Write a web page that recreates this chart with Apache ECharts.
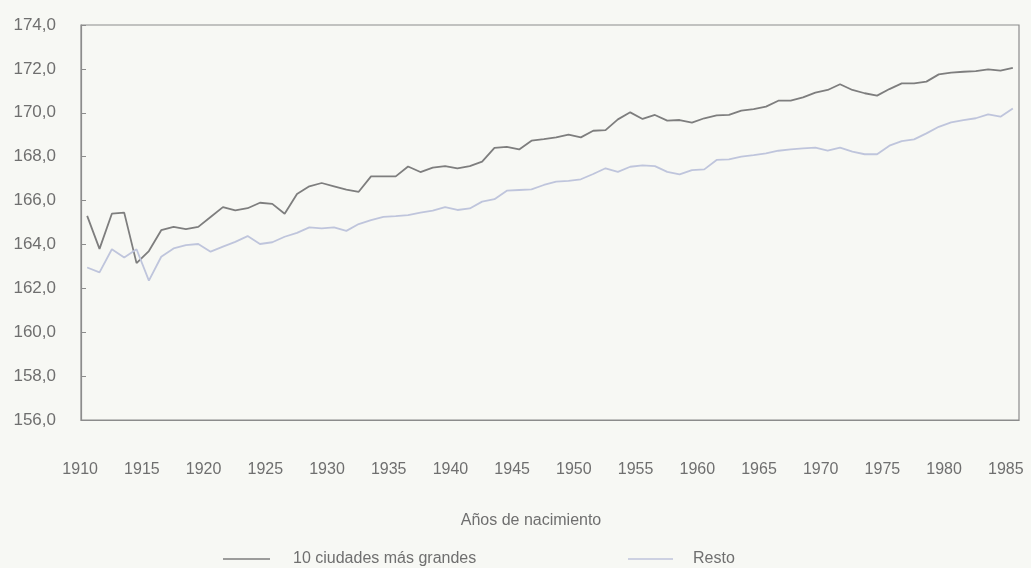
<!DOCTYPE html>
<html>
<head>
<meta charset="utf-8">
<script src="https://cdn.jsdelivr.net/npm/echarts@6/dist/echarts.min.js"></script>
<style>
html,body{margin:0;padding:0;background:#f7f8f4;}
#chart{width:1031px;height:568px;}
</style>
</head>
<body>
<div id="chart"></div>
<script>
const years = [1910,1911,1912,1913,1914,1915,1916,1917,1918,1919,
  1920,1921,1922,1923,1924,1925,1926,1927,1928,1929,
  1930,1931,1932,1933,1934,1935,1936,1937,1938,1939,
  1940,1941,1942,1943,1944,1945,1946,1947,1948,1949,
  1950,1951,1952,1953,1954,1955,1956,1957,1958,1959,
  1960,1961,1962,1963,1964,1965,1966,1967,1968,1969,
  1970,1971,1972,1973,1974,1975,1976,1977,1978,1979,
  1980,1981,1982,1983,1984,1985];

const seriesNames = ['10 ciudades más grandes', 'Resto'];

const ciudades = [165.3,163.8,165.4,165.45,163.15,163.7,164.65,164.8,164.7,164.8,
  165.25,165.7,165.55,165.65,165.9,165.85,165.4,166.3,166.65,166.8,
  166.65,166.5,166.4,167.1,167.1,167.1,167.55,167.3,167.5,167.57,
  167.47,167.57,167.77,168.4,168.45,168.33,168.73,168.8,168.88,169.0,
  168.88,169.18,169.21,169.7,170.02,169.72,169.9,169.64,169.67,169.55,
  169.75,169.88,169.9,170.1,170.17,170.28,170.55,170.55,170.7,170.92,
  171.04,171.3,171.04,170.89,170.78,171.08,171.34,171.34,171.42,171.75,
  171.83,171.87,171.9,171.98,171.92,172.05];

const resto = [162.95,162.73,163.78,163.41,163.78,162.35,163.44,163.82,163.97,164.02,
  163.67,163.9,164.12,164.38,164.02,164.1,164.35,164.53,164.78,164.73,
  164.78,164.62,164.93,165.11,165.26,165.29,165.34,165.45,165.54,165.7,
  165.57,165.64,165.95,166.06,166.45,166.48,166.51,166.71,166.86,166.9,
  166.97,167.21,167.47,167.31,167.54,167.6,167.57,167.31,167.19,167.39,
  167.42,167.85,167.88,168.0,168.07,168.15,168.27,168.33,168.38,168.41,
  168.27,168.41,168.23,168.11,168.11,168.5,168.71,168.79,169.06,169.36,
  169.56,169.67,169.75,169.93,169.82,170.2];

const xAxisTitle = 'Años de nacimiento';
const yMin = 156, yMax = 174, yStep = 2;

const FONT = "'Liberation Sans Narrow', 'Liberation Sans', Arial, sans-serif";
const TXT = '#6f6f6f';
const AX = '#8c8c8c';
const DARK = '#7e7e7e';
const LIGHT = '#bfc5dc';

const chart = echarts.init(document.getElementById('chart'));
chart.setOption({
  backgroundColor: '#f7f8f4',
  animation: false,
  textStyle: { fontFamily: FONT },
  grid: { left: 81, right: 12, top: 25, bottom: 148, show: true, borderColor: AX, borderWidth: 1.2, backgroundColor: 'transparent' },
  legend: [
    { data: [seriesNames[0]], left: 218, top: 546, itemWidth: 47, itemHeight: 14, icon: 'path://M0,7L47,7L47,8.3L0,8.3Z',
      textStyle: { fontFamily: FONT, fontSize: 16, color: TXT, padding: [0,0,0,18] } },
    { data: [seriesNames[1]], left: 623, top: 546, itemWidth: 45, itemHeight: 14, icon: 'path://M0,7L45,7L45,8.3L0,8.3Z',
      textStyle: { fontFamily: FONT, fontSize: 16, color: TXT, padding: [0,0,0,15] } }
  ],
  xAxis: {
    type: 'category',
    data: years,
    boundaryGap: true,
    name: xAxisTitle,
    nameLocation: 'middle',
    nameGap: 93,
    nameTextStyle: { fontFamily: FONT, fontSize: 16, color: TXT, padding: [0, 38, 0, 0] },
    axisLine: { lineStyle: { color: AX, width: 1.2 } },
    axisTick: { inside: true, length: 5, interval: 4, lineStyle: { color: AX } },
    axisLabel: { interval: 4, margin: 42, fontFamily: FONT, fontSize: 16, color: TXT, padding: [0, 14, 0, 0] },
    splitLine: { show: false }
  },
  yAxis: {
    type: 'value',
    min: yMin, max: yMax, interval: yStep,
    axisLine: { show: true, lineStyle: { color: AX, width: 1.2 } },
    axisTick: { show: true, inside: true, length: 5, lineStyle: { color: AX } },
    axisLabel: { margin: 25, fontFamily: FONT, fontSize: 17, color: TXT,
      formatter: v => v.toFixed(1).replace('.', ',') },
    splitLine: { show: false }
  },
  series: [
    { name: seriesNames[0], type: 'line', data: ciudades, symbol: 'none', showSymbol: false,
      lineStyle: { color: DARK, width: 1.8 }, itemStyle: { color: DARK } },
    { name: seriesNames[1], type: 'line', data: resto, symbol: 'none', showSymbol: false,
      lineStyle: { color: LIGHT, width: 1.8 }, itemStyle: { color: LIGHT } }
  ]
});
</script>
</body>
</html>
